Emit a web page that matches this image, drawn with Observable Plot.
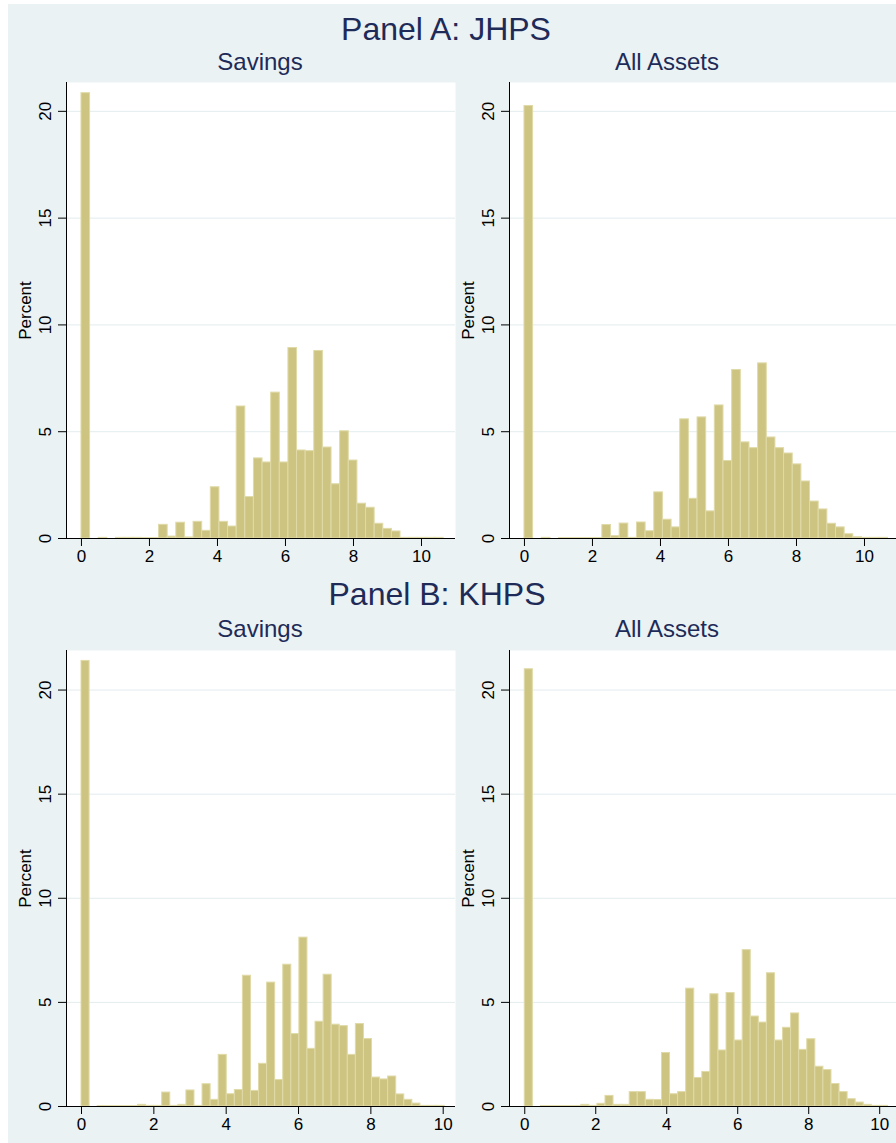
<!DOCTYPE html>
<html>
<head>
<meta charset="utf-8">
<script src="https://cdn.jsdelivr.net/npm/d3@7"></script>
<script src="https://cdn.jsdelivr.net/npm/@observablehq/plot@0.6"></script>
<style>
  html, body { margin: 0; padding: 0; background: #ffffff; }
  body { width: 896px; height: 1143px; position: relative; overflow: hidden; font-family: "Liberation Sans", Arial, Helvetica, sans-serif; }
  #bg { position: absolute; left: 8px; top: 4px; right: 0; bottom: 0; background: #eaf2f3; }
  .t { position: absolute; white-space: nowrap; color: #1e2b58; line-height: 1; transform: translateX(-50%); }
  .t1 { font-size: 32px; }
  .t2 { font-size: 24px; }
  .p { position: absolute; width: 460px; }
  .p svg { max-width: none !important; }
</style>
</head>
<body>
<div id="bg"></div>
<div class="t t1" style="left:446px; top:13px;">Panel A: JHPS</div>
<div class="t t2" style="left:260px; top:50px;">Savings</div>
<div class="t t2" style="left:667px; top:50px;">All Assets</div>
<div class="t t1" style="left:437px; top:578px;">Panel B: KHPS</div>
<div class="t t2" style="left:260px; top:617px;">Savings</div>
<div class="t t2" style="left:667px; top:617px;">All Assets</div>
<div id="pA1" class="p" style="left:0px; top:72px;"></div>
<div id="pA2" class="p" style="left:455px; top:72px;"></div>
<div id="pB1" class="p" style="left:0px; top:640px;"></div>
<div id="pB2" class="p" style="left:455px; top:640px;"></div>
<script>
// Histogram bin widths (bins start at 0)
const binWidthJhpsSavings = 0.2536;
const binWidthJhpsAssets = 0.2545;
const binWidthKhpsSavings = 0.2231;
const binWidthKhpsAssets = 0.2274;

// Percent per bin
const jhpsSavings = [20.85, 0, 0.03, 0, 0.03, 0.03, 0.03, 0.02, 0.02, 0.64, 0.09, 0.74, 0.05, 0.78, 0.36, 2.4, 0.78, 0.56, 6.18, 1.94, 3.75, 3.56, 6.83, 3.56, 8.92, 4.12, 4.09, 8.78, 4.26, 2.54, 5.02, 3.65, 1.63, 1.44, 0.69, 0.45, 0.33, 0.03, 0.03, 0.03, 0.03, 0.03];
const jhpsAssets = [20.25, 0, 0.03, 0, 0.02, 0.02, 0.02, 0.02, 0.02, 0.63, 0.11, 0.70, 0.03, 0.75, 0.34, 2.16, 0.88, 0.52, 5.58, 1.86, 5.67, 1.27, 6.23, 3.63, 7.89, 4.5, 4.23, 8.2, 4.73, 4.23, 3.98, 3.47, 2.67, 1.73, 1.36, 0.69, 0.52, 0.2, 0.06, 0.03, 0.03, 0.03];
const khpsSavings = [21.4, 0, 0.02, 0.02, 0.02, 0.02, 0.02, 0.08, 0.03, 0.03, 0.67, 0.03, 0.08, 0.77, 0.03, 1.07, 0.32, 2.48, 0.59, 0.79, 6.28, 0.75, 2.05, 5.95, 1.27, 6.81, 3.48, 8.11, 2.77, 4.07, 6.33, 3.93, 3.86, 2.48, 3.96, 3.24, 1.39, 1.3, 1.44, 0.58, 0.32, 0.14, 0.03, 0.03, 0.03];
const khpsAssets = [21.0, 0, 0.02, 0.02, 0.02, 0.02, 0.02, 0.08, 0.03, 0.13, 0.51, 0.08, 0.08, 0.69, 0.69, 0.32, 0.31, 2.57, 0.59, 0.69, 5.66, 1.37, 1.66, 5.39, 2.69, 5.45, 3.17, 7.51, 4.32, 4.03, 6.4, 3.17, 3.78, 4.47, 2.72, 3.23, 1.91, 1.75, 1.08, 0.69, 0.35, 0.19, 0.08, 0.03, 0.03];

const xTicks = [0, 2, 4, 6, 8, 10];
const yTicks = [0, 5, 10, 15, 20];
const gridTicks = [5, 10, 15, 20];
const yLabel = "Percent";

function toBins(values, w) {
  return values.map((v, i) => ({x1: i * w, x2: (i + 1) * w, pct: v}));
}

function panel(el, values, w, xDomain, yDomain, marginLeft, plotWidth) {
  const bins = toBins(values, w);
  const chart = Plot.plot({
    width: marginLeft + plotWidth,
    height: 10 + 456 + 30,
    marginLeft: marginLeft,
    marginRight: 0,
    marginTop: 10,
    marginBottom: 30,
    style: {background: "transparent", fontSize: "17px", fontFamily: "'Liberation Sans', Arial, Helvetica, sans-serif", color: "#000", overflow: "visible", maxWidth: "none"},
    x: {domain: xDomain},
    y: {domain: yDomain},
    marks: [
      Plot.frame({fill: "#ffffff", stroke: null}),
      Plot.ruleY(gridTicks, {stroke: "#e3ecee", strokeWidth: 1}),
      Plot.rectY(bins, {x1: "x1", x2: "x2", y: "pct", fill: "#cdc482", stroke: "#e0daa8", strokeWidth: 1, inset: 0}),
      Plot.ruleX([xDomain[0]], {stroke: "#000", strokeWidth: 1}),
      Plot.ruleY([0], {stroke: "#000", strokeWidth: 1}),
      Plot.axisX({ticks: xTicks, tickSize: 8, tickPadding: 3, label: null, tickFormat: d => String(d)}),
      Plot.axisY({ticks: yTicks, tickSize: 8, tickPadding: 8, tickRotate: -90, label: null, tickFormat: d => String(d)}),
      Plot.text([yLabel], {text: d => d, frameAnchor: "left", textAnchor: "middle", lineAnchor: "middle", dx: -41, rotate: -90, fontSize: 17, fill: "#000"})
    ]
  });
  document.getElementById(el).appendChild(chart);
}

panel("pA1", jhpsSavings, binWidthJhpsSavings, [-0.44, 11.0], [0, 21.35], 66, 389);
panel("pA2", jhpsAssets, binWidthJhpsAssets, [-0.44, 11.0], [0, 21.35], 54, 389);
panel("pB1", khpsSavings, binWidthKhpsSavings, [-0.415, 10.34], [0, 21.9], 66, 389);
panel("pB2", khpsAssets, binWidthKhpsAssets, [-0.43, 10.53], [0, 21.9], 54, 389);
</script>
</body>
</html>
